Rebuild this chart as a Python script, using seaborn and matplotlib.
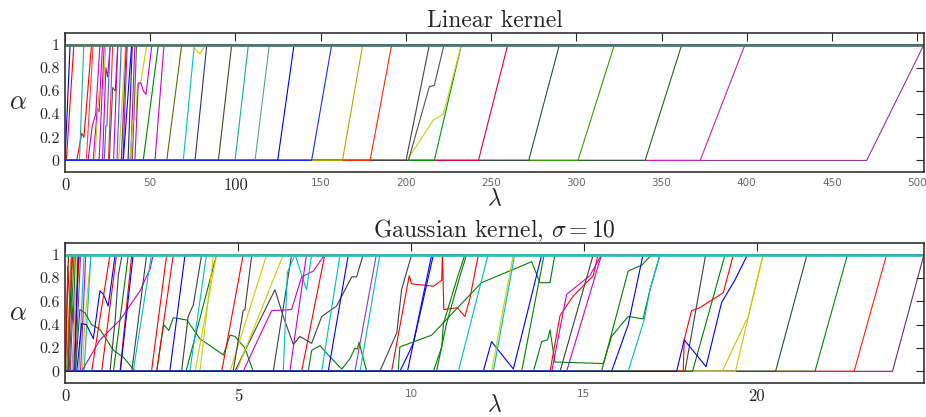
"""
Regularization paths of the SVM coefficients, linear and Gaussian kernel.
"""

import matplotlib
matplotlib.use("Agg")
import matplotlib.pyplot as plt
import pandas as pd
import seaborn as sns

# ---- linear kernel: breakpoints (lambda, alpha) of each path ----
lin_lam = [
    [470.4, 504], [372.7, 399], [340.4, 361.9], [301, 322.4], [272.1, 290.1],
    [242.6, 259.8], [216.7, 232.6], [200.7, 216.2, 222, 232.6],
    [201.5, 213.8, 216.7, 222.4], [200.1, 213.8], [179, 191.7], [162.8, 174.7],
    [0, 3.0], [0.8, 5.2], [6.9, 9.8, 11.1, 15.6], [8.5, 11.0], [12.5, 16.5],
    [13.5, 16, 18, 20.5], [16.5, 19, 20, 22], [17.5, 20, 22.5, 24], [20, 23],
    [22, 24, 25, 26.5], [23, 24, 24.6, 26.5], [25.5, 28], [26, 28, 29.5, 31],
    [28.5, 31], [30.5, 33], [31.5, 35.5], [33, 36], [34, 36.5], [34.2, 39.1],
    [37, 39.5], [38.5, 41], [39.5, 42], [38, 40, 41.5, 42.5, 44.5, 48],
    [41, 43, 44.5, 46, 47.5, 51], [45.9, 54.8], [52.8, 58.1], [59.7, 68.5],
    [69.4, 75.9], [74.3, 79, 82.7], [76.3, 83.2], [90, 97.8], [99.8, 107.6],
    [111.5, 119.9], [124.8, 134.4], [144.7, 156.5], [0],
]
lin_alpha = [
    [0, 1], [0, 1], [0, 1], [0, 1], [0, 1],
    [0, 1], [0, 1], [0, .35, .40, 1],
    [0, .638, .647, 1], [0, 1], [0, 1], [0, 1],
    [0, 1], [0, 1], [0, .235, .2, 1], [0, 1], [0, 1],
    [0, .3, .4, 1], [0, .45, .42, 1], [0, .6, .62, 1], [0, 1],
    [0, .8, .72, 1], [0, .3, .3, 1], [0, 1], [0, .63, .6, 1],
    [0, 1], [0, 1], [0, 1], [0, 1], [0, 1], [0, 1],
    [0, 1], [0, 1], [0, 1], [0, .35, .35, .65, .68, 1],
    [0, .67, .67, .6, .57, 1], [0, 1], [0, 1], [0, 1],
    [0, 1], [1, .92, 1], [0, 1], [0, 1], [0, 1],
    [0, 1], [0, 1], [0, 1], [1],
]
lin_colors = [
    "#9b30a0", "#cc22aa", "#2e5e2e", "#33a000", "#2f4f3f",
    "#e0004f", "#009900", "#cccc22",
    "#555555", "#444444", "#ff2a00", "#b0a800",
    "#0000ff", "#ff0000", "#ff0000", "#20b0a0", "#ff4040",
    "#cc00cc", "#cc00cc", "#cccc00", "#cc00cc",
    "#cc00cc", "#4060ff", "#ff3030", "#555555",
    "#cc00cc", "#5050ff", "#cccc00", "#444444", "#cc00cc", "#0000ff",
    "#202080", "#cc00cc", "#556b2f", "#cccc00",
    "#cc00cc", "#008000", "#cc00cc", "#5a6e00",
    "#00bfbf", "#cccc00", "#303090", "#4a4a20", "#10b0a0",
    "#60a090", "#0000ff", "#1030ff", "#4a7a6e",
]
lin_lam_max = 504
lin_xticks = [0, 50, 100, 150, 200, 250, 300, 350, 400, 450, 500]
lin_serif_ticks = [0, 100]

# ---- Gaussian kernel, sigma = 10 ----
gau_lam = [
    [23.92, 24.83], [22.81, 23.75], [21.68, 22.62], [20.54, 21.45], [19.38, 20.18],
    [19.0, 19.34, 19.75, 20.18], [18.14, 19.08], [17.92, 18.52],
    [17.87, 17.9, 18.11, 18.35, 19.03, 19.32],
    [0, 0.1], [0.02, 0.08, 0.15, 0.22], [0.05, 0.18], [0.08, 0.2],
    [0.1, 0.16, 0.24, 0.3], [0.12, 0.26], [0.15, 0.22, 0.3, 0.38],
    [0.2, 0.3, 0.36, 0.42], [0.22, 0.35], [0.25, 0.33, 0.4], [0.28, 0.38],
    [0.3, 0.45], [0.4, 0.55], [0.45, 0.6], [0.5, 0.58, 0.75], [0.55, 0.75],
    [0.3, 0.43, 0.58, 0.77, 1.01, 1.40, 1.69, 1.97, 2.05, 2.65, 2.85, 3.0, 3.13,
     3.52, 3.9, 4.58, 4.77, 4.91, 5.2, 5.44, 7.03, 7.13, 7.37, 7.61, 8.0, 8.24,
     8.38, 8.45, 8.5, 8.72, 13.2, 13.85],
    [0.34, 0.48, 0.62, 0.82, 1.01, 1.11, 1.25, 1.45],
    [0.48, 1.01, 1.59, 2.17, 2.46, 2.55],
    [0.77, 1.30], [1.06, 1.49], [1.30, 1.45, 1.54, 1.65], [1.40, 1.83],
    [1.59, 1.93], [1.6, 1.97], [1.93, 2.36], [1.97, 2.50], [2.50, 2.94],
    [2.65, 3.13], [3.03, 3.47], [3.37, 3.56, 3.71, 3.95], [3.5, 4.38],
    [3.61, 4.09], [3.76, 4.38], [3.9, 4.29], [4.53, 5.15], [4.77, 5.83],
    [4.86, 5.15, 5.2, 5.4],
    [4.91, 6.07, 6.31, 6.6, 6.79, 7.13, 7.42, 7.85, 8.29, 8.43, 8.62],
    [4.96, 6.31], [5.15, 5.97, 6.55, 6.84, 7.18, 7.51], [6.02, 6.55],
    [6.31, 6.43, 6.65, 6.98, 7.13], [6.5, 6.98], [6.84, 7.51], [7.42, 7.95],
    [7.61, 8.19], [8.38, 9.0], [8.53, 9.1], [9.1, 9.59, 9.73, 10.02],
    [9.44, 9.95, 10.02, 10.65, 10.89, 10.91, 10.95, 11.34, 11.56, 11.7, 11.95],
    [9.68, 10.07, 10.65], [9.9, 10.6],
    [9.63, 9.68, 10.6, 10.98, 12.04, 13.49, 13.73, 14.02, 14.16],
    [10.65, 10.89, 10.94, 11.37, 11.56], [10.74, 11.03, 11.42, 11.61],
    [11.37, 12.23], [12.09, 12.33, 12.96, 13.78], [12.33, 12.96], [12.38, 13.0],
    [13.54, 13.78, 13.95, 14.02, 14.16, 15.56, 15.8, 16.28, 16.71, 16.91, 17.2],
    [14.02, 14.31, 14.69, 15.27, 15.41], [14.07, 14.5, 15.17, 15.51],
    [14.31, 15.27], [14.5, 15.51], [15.51, 16.28, 16.67, 16.96],
    [15.8, 16.28, 16.71], [16.28, 16.75, 16.91, 17.2],
    [17.68, 17.9, 18.53, 18.98, 19.36, 19.73],
    [0],
]
gau_alpha = [
    [0, 1], [0, 1], [0, 1], [0, 1], [0, 1],
    [0, .217, .47, 1], [0, 1], [0, 1],
    [0, .27, .52, .545, .675, 1],
    [0, 1], [0, .9, .5, 1], [0, 1], [0, 1],
    [0, .7, .45, 1], [0, 1], [0, .5, .3, 1],
    [0, .6, .75, 1], [0, 1], [0, .5, 1], [0, 1],
    [0, 1], [0, 1], [0, 1], [0, .45, 1], [0, 1],
    [0, .53, .5, .4, .36, .18, .12, .02, 0, 0, .4, .35, .46,
     .44, .28, .14, .31, .30, .20, 0, 0, .18, .22, .14, .02, .11,
     .20, .19, .25, 0, 0, 1],
    [0, .41, .40, .28, .69, .66, .56, 1],
    [0, .27, .44, .69, .88, 1],
    [0, 1], [0, 1], [0, .44, .82, 1], [0, 1],
    [0, 1], [0, 1], [0, 1], [0, 1], [0, 1],
    [0, 1], [0, 1], [0, .47, .57, 1], [0, 1],
    [0, 1], [0, 1], [0, 1], [0, 1], [0, 1],
    [0, .52, .53, 1],
    [0, .7, .47, .23, .30, .24, .47, .56, .81, .81, 1],
    [0, 1], [0, .52, .53, .81, .86, 1], [0, 1],
    [0, .85, 1, .70, 1], [0, 1], [0, 1], [0, 1],
    [0, 1], [0, 1], [0, 1], [0, .33, .70, 1],
    [0, .82, .75, .73, .78, 1, .53, .545, .47, .62, 1],
    [0, .24, 1], [0, 1],
    [0, .21, .31, .43, .76, .94, .76, .76, 1],
    [0, .21, .41, .83, 1], [0, .41, .82, 1],
    [0, 1], [0, .255, .02, 1], [0, 1], [0, 1],
    [0, .255, .27, .356, .08, .067, .30, .47, .45, .70, 1],
    [0, .478, .646, .82, 1], [0, .66, .82, 1],
    [0, 1], [0, 1], [0, .86, .91, 1],
    [0, .40, 1], [0, .45, .7, 1],
    [0, .27, .04, .59, .78, 1],
    [1],
]
gau_colors = [
    "#6b2d6b", "#ff2200", "#008800", "#2f4f2f", "#c8c800",
    "#c8c800", "#008000", "#404040",
    "#ff0000",
    "#8b0000", "#ff0000", "#808000", "#8b4513",
    "#008000", "#555555", "#cc00cc",
    "#00bfbf", "#cccc00", "#ff0000", "#0000ff",
    "#9932cc", "#00bfbf", "#cc00cc", "#cccc00", "#00bfbf",
    "#008000",
    "#0000ff",
    "#cc00cc",
    "#ff0000", "#ff0000", "#404040", "#008000",
    "#ff0000", "#0000ff", "#404040", "#00bfbf", "#ff0000",
    "#ff0000", "#0000ff", "#404040", "#008000",
    "#00bfbf", "#cccc00", "#cccc00", "#ff0000", "#cccc00",
    "#404040",
    "#404040",
    "#cccc00", "#cc00cc", "#404040",
    "#00bfbf", "#cc00cc", "#ff0000", "#00bfbf",
    "#0000ff", "#9932cc", "#00bfbf", "#404040",
    "#ff0000",
    "#0000ff", "#0000ff",
    "#008000",
    "#008000", "#008000",
    "#00bfbf", "#0000ff", "#cccc00", "#00bfbf",
    "#008000",
    "#ff0000", "#cc00cc",
    "#404040", "#cc00cc", "#008000",
    "#0000ff", "#00bfbf",
    "#0000ee",
    "#33bbbb",
]
gau_lam_max = 24.83
gau_xticks = [0, 5, 10, 15, 20]
gau_serif_ticks = [0, 5, 20]

yticks = [0, 0.2, 0.4, 0.6, 0.8, 1]
ytick_labels = ["0", "0.2", "0.4", "0.6", "0.8", "1"]


def build_frame(lams, alphas, lam_max):
    rows = []
    for i, (lam, alpha) in enumerate(zip(lams, alphas)):
        lam = list(lam)
        alpha = list(alpha)
        if lam[0] > 0:
            lam = [0] + lam
            alpha = [alpha[0]] + alpha
        if lam[-1] < lam_max:
            lam = lam + [lam_max]
            alpha = alpha + [alpha[-1]]
        for l, a in zip(lam, alpha):
            rows.append((i, l, a))
    return pd.DataFrame(rows, columns=["path", "lam", "alpha"])


def draw_panel(ax, lams, alphas, colors, lam_max, xticks, serif_ticks,
               title, xlabel_y):
    df = build_frame(lams, alphas, lam_max)
    sns.lineplot(
        data=df, x="lam", y="alpha", hue="path",
        palette=dict(enumerate(colors)),
        estimator=None, sort=False, legend=False,
        linewidth=0.8, ax=ax
    )
    ax.lines[-1].set_linewidth(2.0)

    ax.set_xlim(0, lam_max)
    ax.set_ylim(-0.1, 1.1)
    ax.set_xticks(xticks)
    ax.set_xticklabels([str(t) for t in xticks])
    for t, lab in zip(xticks, ax.get_xticklabels()):
        if t in serif_ticks:
            lab.set_fontsize(12)
        else:
            lab.set_fontfamily("DejaVu Sans")
            lab.set_fontsize(7.5)
            lab.set_color("#666666")
    ax.set_yticks(yticks)
    ax.set_yticklabels(ytick_labels, fontsize=11.5)

    ax.tick_params(direction="in", length=6, width=0.8,
                   top=True, right=True, pad=4)
    for sp in ax.spines.values():
        sp.set_color("#333333")
        sp.set_linewidth(1.2)

    ax.set_title(title, fontsize=17, pad=4)
    ax.set_xlabel(r"$\lambda$", fontsize=17, va="center")
    ax.xaxis.set_label_coords(0.5, xlabel_y)
    ax.set_ylabel(r"$\alpha$", fontsize=19, rotation=0, va="center")
    ax.yaxis.set_label_coords(-0.055, 0.5)


def run_plot():
    sns.set_style("white")
    plt.rcParams["font.family"] = "serif"
    plt.rcParams["font.serif"] = ["cmr10", "DejaVu Serif"]
    plt.rcParams["mathtext.fontset"] = "cm"
    plt.rcParams["axes.formatter.use_mathtext"] = True

    fig = plt.figure(figsize=(9.26, 4.17), dpi=100)
    ax1 = fig.add_axes([0.0702, 0.5875, 0.9276, 0.3333])
    ax2 = fig.add_axes([0.0702, 0.0815, 0.9276, 0.3357])

    draw_panel(ax1, lin_lam, lin_alpha, lin_colors, lin_lam_max,
               lin_xticks, lin_serif_ticks, "Linear kernel", -0.195)
    draw_panel(ax2, gau_lam, gau_alpha, gau_colors, gau_lam_max,
               gau_xticks, gau_serif_ticks, r"Gaussian kernel, $\sigma = 10$",
               -0.16)

    fig.savefig("out.png", dpi=100)


if __name__ == "__main__":
    run_plot()
